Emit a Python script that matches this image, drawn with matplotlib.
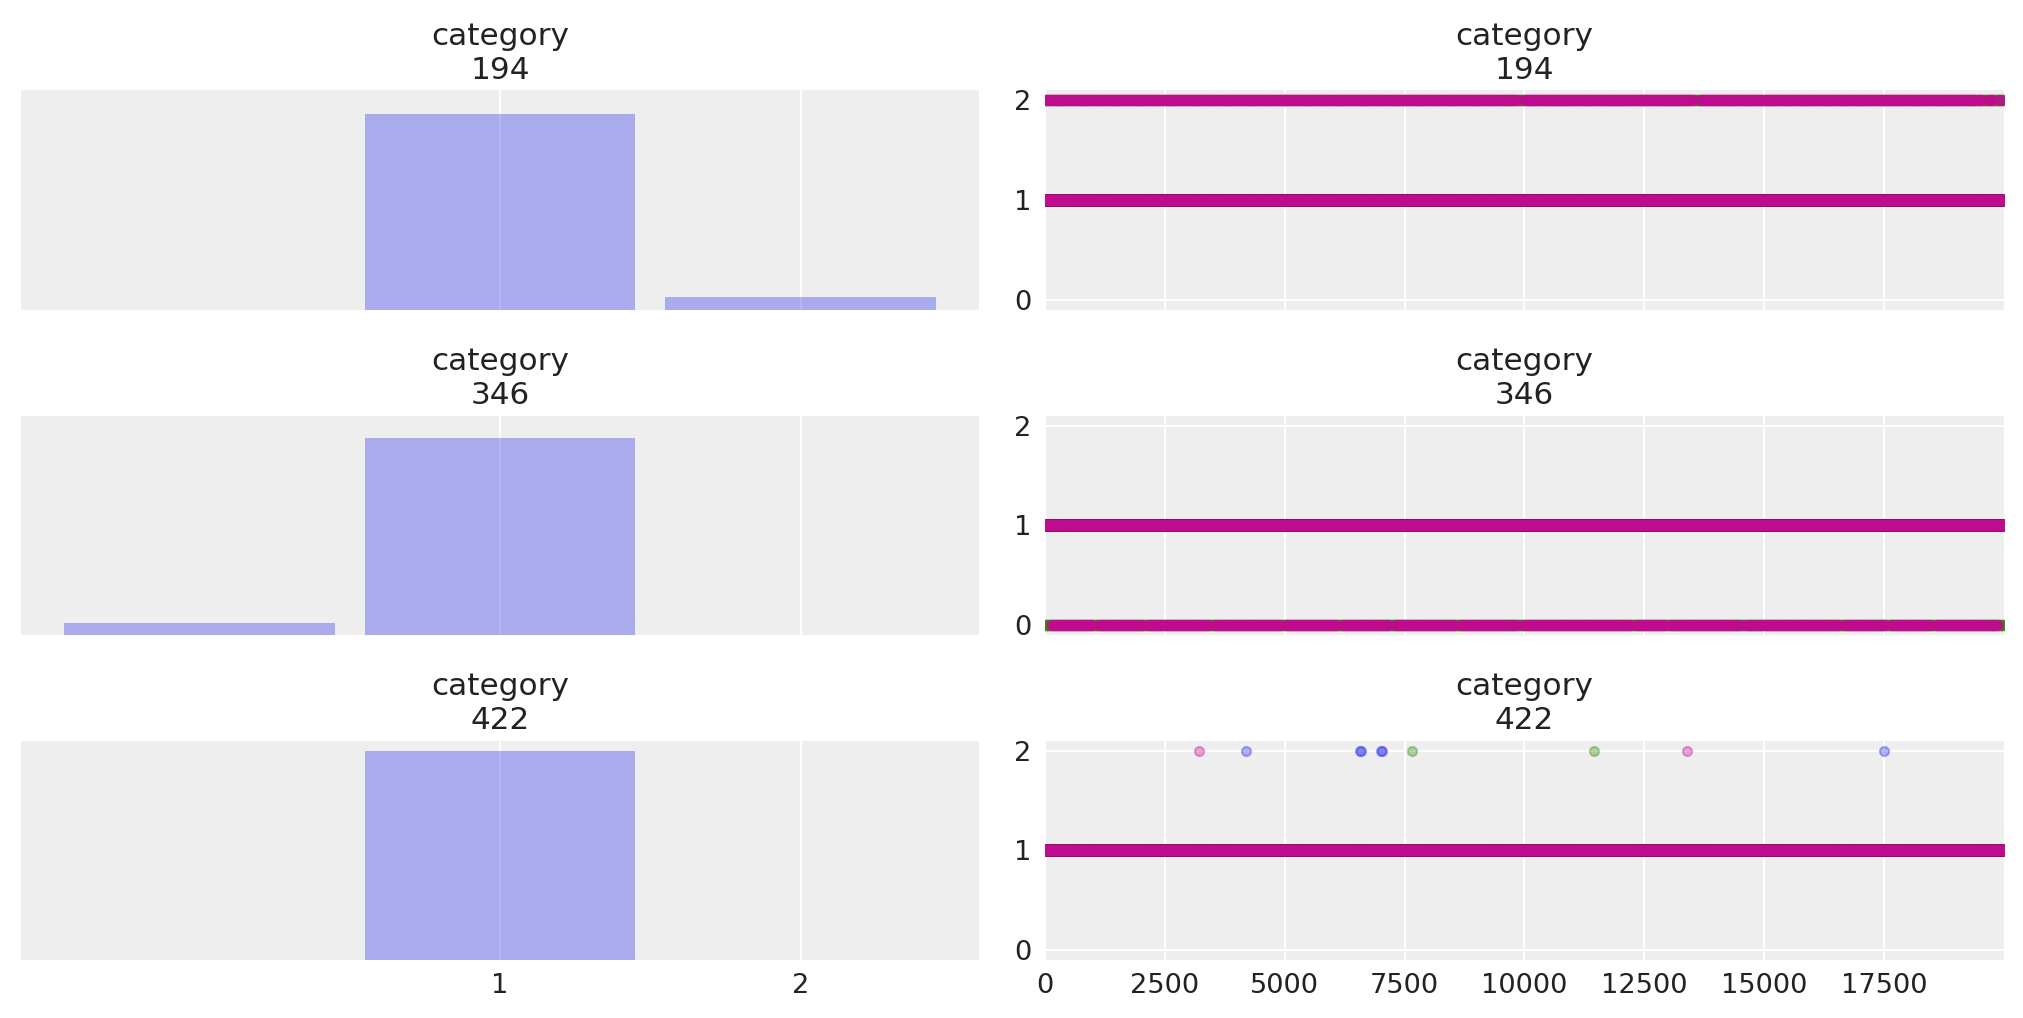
import numpy as np
import matplotlib.pyplot as plt

# ──────────────────────────────────────────────────────────────
#  trace plot of a discrete variable (3 categories, 4 chains)
#  left: share of draws per level, right: draws per chain
# ──────────────────────────────────────────────────────────────

n_draws = 20000
chain_colors = ["#2a2eec", "#fa7c17", "#328c06", "#c10c90"]
titles = ["category\n194", "category\n346", "category\n422"]

# share of draws at each level
levels = [0, 1, 2]
share_194 = [0.0, 0.938, 0.062]
share_346 = [0.056, 0.944, 0.0]
share_422 = [0.0, 1.0, 0.0]

# every draw sits at 1, except inside these runs (draw ranges, per chain)
# where the chain keeps jumping to the other level
off_194 = 2
runs_194 = [
    [(0, 20000)],                                          # chain 0
    [(0, 20000)],                                          # chain 1
    [(0, 20000)],                                          # chain 2
    [(0, 9870), (9990, 13540), (13660, 19540), (19660, 19780), (19900, 19960)],  # chain 3
]

off_346 = 0
runs_346 = [
    [(0, 20000)],
    [(0, 20000)],
    [(0, 20000)],
    [(130, 980), (1100, 2030), (2140, 3430), (3530, 4910), (5020, 6100),
     (6210, 7180), (7300, 8540), (8650, 9860), (9970, 12220), (12320, 12950),
     (13050, 14510), (14620, 16570), (16680, 17540), (17650, 18480), (18580, 19880)],
]

# single draws away from 1
off_422 = 2
points_422 = [
    [4199, 6578, 6590, 7016, 7028, 17492],
    [],
    [7663, 11442],
    [3218, 13381],
]

# jump spacing inside a run (~ share of the off level)
run_step = 16

draws = np.arange(n_draws)


def chain_values(runs=(), points=(), off=2):
    vals = np.ones(n_draws)
    for a, b in runs:
        vals[a:b:run_step] = off
    vals[list(points)] = off
    return vals


panels = [
    (share_194, [chain_values(r, off=off_194) for r in runs_194]),
    (share_346, [chain_values(r, off=off_346) for r in runs_346]),
    (share_422, [chain_values(points=p, off=off_422) for p in points_422]),
]

# style (arviz darkgrid look)
plt.rcParams['font.family'] = 'DejaVu Sans'
plt.rcParams['text.color'] = '#222222'
plt.rcParams['xtick.color'] = '#222222'
plt.rcParams['ytick.color'] = '#222222'

fig = plt.figure(figsize=(2023 / 140, 1018 / 140), dpi=140)

row_bottoms = [0.6959, 0.3764, 0.0571]
row_h = 0.2154
left_x, right_x, col_w = 0.0102, 0.5166, 0.4739

for i, (share, chains) in enumerate(panels):
    last = i == len(panels) - 1

    # left: bars
    ax = fig.add_axes([left_x, row_bottoms[i], col_w, row_h])
    ax.set_facecolor('#eeeeee')
    ax.bar(levels, share, width=0.9, color=chain_colors[0], alpha=0.35, zorder=2)
    ax.set_xlim(-0.595, 2.595)
    ax.set_ylim(0, 1.05)
    ax.set_xticks([1, 2])
    ax.set_yticks([])
    ax.grid(axis='x', color='white', linewidth=1.0, zorder=0)
    ax.set_axisbelow(True)
    ax.tick_params(length=0, pad=7, labelsize=14, labelbottom=last)
    for s in ax.spines.values():
        s.set_visible(False)
    ax.set_title(titles[i], fontsize=16)

    # right: trace
    ax = fig.add_axes([right_x, row_bottoms[i], col_w, row_h])
    ax.set_facecolor('#eeeeee')
    for c, vals in zip(chain_colors, chains):
        ax.plot(draws, vals, linestyle='None', marker='o', color=c,
                alpha=0.35, markersize=4.8, markeredgewidth=1.0, zorder=2)
    ax.set_xlim(0, n_draws - 1)
    ax.set_ylim(-0.1, 2.1)
    ax.set_xticks(np.arange(0, 20000, 2500))
    ax.set_yticks([0, 1, 2])
    ax.grid(color='white', linewidth=1.0, zorder=0)
    ax.set_axisbelow(True)
    ax.tick_params(length=0, pad=7, labelsize=14, labelbottom=last)
    for s in ax.spines.values():
        s.set_visible(False)
    ax.set_title(titles[i], fontsize=16)

fig.savefig('out.png', dpi=140)
